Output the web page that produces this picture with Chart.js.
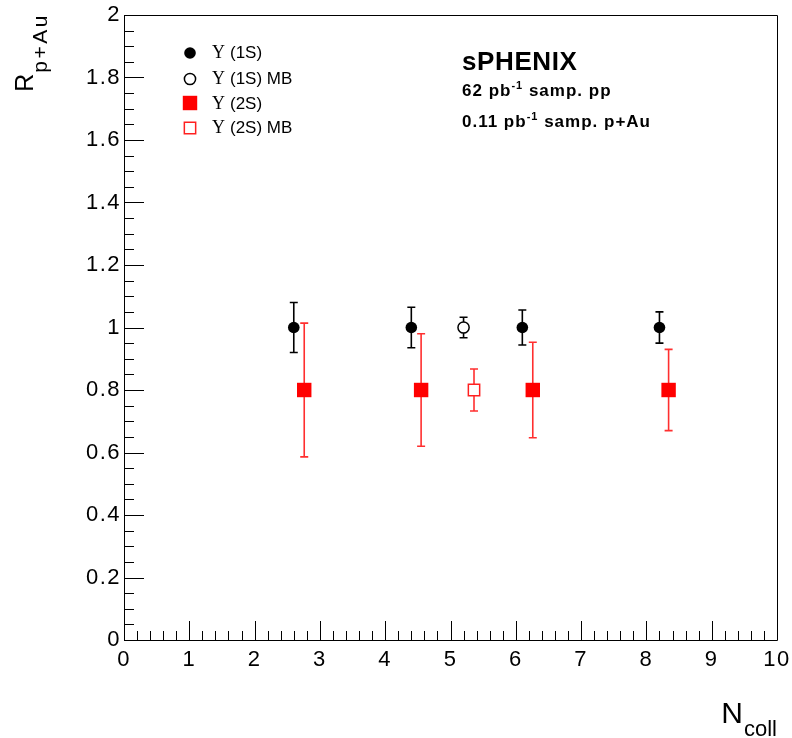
<!DOCTYPE html>
<html>
<head>
<meta charset="utf-8">
<script src="https://cdn.jsdelivr.net/npm/chart.js@4/dist/chart.umd.min.js"></script>
<style>
html,body{margin:0;padding:0;background:#fff;}
#wrap{width:792px;height:738px;position:relative;}
</style>
</head>
<body>
<div id="wrap"><canvas id="c" width="792" height="738"></canvas></div>
<script>
// ---- data ----
const xTickLabels = ['0','1','2','3','4','5','6','7','8','9','10'];
const yTickLabels = ['0','0.2','0.4','0.6','0.8','1','1.2','1.4','1.6','1.8','2'];

const ncoll1S   = [2.6, 4.4, 6.1, 8.2];
const raa1S     = [1.0, 1.0, 1.0, 1.0];
const err1S     = [0.080, 0.065, 0.056, 0.050];

const ncoll1SMB = [5.2];
const raa1SMB   = [1.0];
const err1SMB   = [0.033];

const ncoll2S   = [2.76, 4.55, 6.26, 8.34];
const raa2S     = [0.8, 0.8, 0.8, 0.8];
const err2S     = [0.214, 0.180, 0.153, 0.130];

const ncoll2SMB = [5.36];
const raa2SMB   = [0.8];
const err2SMB   = [0.067];

const seriesNames = ['(1S)', '(1S) MB', '(2S)', '(2S) MB'];
const headerLines = ['sPHENIX', '62 pb', '0.11 pb'];

const toPts = (xs, ys) => xs.map((x, i) => ({x: x, y: ys[i]}));

// ---- plugins ----
const spacing = {
  id: 'spacing',
  beforeDraw(chart) { chart.ctx.letterSpacing = '1.5px'; },
  beforeDatasetsDraw(chart) { chart.ctx.letterSpacing = '0px'; }
};

const errorBars = {
  id: 'errorBars',
  beforeDatasetsDraw(chart) {
    const ctx = chart.ctx, xs = chart.scales.x, ys = chart.scales.y;
    chart.data.datasets.forEach((ds) => {
      ctx.save();
      ctx.strokeStyle = ds.errColor;
      ctx.lineWidth = 1.6;
      ds.data.forEach((p, i) => {
        const e = ds.err[i];
        const px = xs.getPixelForValue(p.x);
        const y1 = ys.getPixelForValue(p.y + e);
        const y2 = ys.getPixelForValue(p.y - e);
        ctx.beginPath();
        ctx.moveTo(px, y1); ctx.lineTo(px, y2);
        ctx.moveTo(px - 4, y1); ctx.lineTo(px + 4, y1);
        ctx.moveTo(px - 4, y2); ctx.lineTo(px + 4, y2);
        ctx.stroke();
      });
      ctx.restore();
    });
  }
};

const frameTicks = {
  id: 'frameTicks',
  afterDraw(chart) {
    const ctx = chart.ctx, a = chart.chartArea, xs = chart.scales.x, ys = chart.scales.y;
    ctx.save();
    ctx.strokeStyle = '#000';
    ctx.lineWidth = 1;
    ctx.beginPath();
    ctx.rect(Math.round(a.left) + 0.5, Math.round(a.top) + 0.5,
             Math.round(a.right - a.left), Math.round(a.bottom - a.top));
    ctx.stroke();
    ctx.beginPath();
    // x ticks: major every 1, minor every 0.2
    for (let i = 0; i <= 50; i++) {
      const v = i * 0.2;
      const px = Math.round(xs.getPixelForValue(v)) + 0.5;
      const len = (i % 5 === 0) ? 19 : 9;
      ctx.moveTo(px, a.bottom); ctx.lineTo(px, a.bottom - len);
    }
    // y ticks: major every 0.2, minor every 0.05
    for (let i = 0; i <= 40; i++) {
      const v = i * 0.05;
      const py = Math.round(ys.getPixelForValue(v)) + 0.5;
      const len = (i % 4 === 0) ? 20 : 10;
      ctx.moveTo(a.left, py); ctx.lineTo(a.left + len, py);
    }
    ctx.stroke();
    ctx.restore();
  }
};

const annotations = {
  id: 'annotations',
  afterDraw(chart) {
    const ctx = chart.ctx;
    const H = Chart.helpers;
    ctx.save();
    ctx.letterSpacing = '0px';
    ctx.fillStyle = '#000';
    ctx.textBaseline = 'alphabetic';

    // legend
    const legX = 190, txtX = 212;
    const legY = [53, 79, 103, 128];
    const legBase = [58, 84, 109, 133];
    chart.data.datasets.forEach((ds, i) => {
      ctx.save();
      ctx.fillStyle = ds.pointBackgroundColor;
      ctx.strokeStyle = ds.pointBorderColor;
      ctx.lineWidth = ds.pointBorderWidth;
      H.drawPoint(ctx, {pointStyle: ds.pointStyle, radius: ds.pointRadius,
        borderWidth: ds.pointBorderWidth, rotation: 0}, legX, legY[i]);
      ctx.restore();
      ctx.fillStyle = '#000';
      ctx.textAlign = 'left';
      ctx.font = '18px "Liberation Serif"';
      ctx.fillText('\u03A5', txtX, legBase[i]);
      const w = ctx.measureText('\u03A5').width;
      ctx.font = '17px "Liberation Sans"';
      ctx.fillText(seriesNames[i], txtX + w + 5, legBase[i]);
    });

    // header text
    const hx = 462;
    ctx.letterSpacing = '0.6px';
    ctx.font = 'bold 26px "Liberation Sans"';
    ctx.fillText(headerLines[0], hx, 70);
    ctx.letterSpacing = '1px';
    const supLine = (pre, post, base) => {
      ctx.font = 'bold 17px "Liberation Sans"';
      ctx.fillText(pre, hx, base);
      let x = hx + ctx.measureText(pre).width;
      ctx.font = 'bold 11px "Liberation Sans"';
      ctx.fillText('-1', x, base - 7);
      x += ctx.measureText('-1').width;
      ctx.font = 'bold 17px "Liberation Sans"';
      ctx.fillText(post, x, base);
    };
    supLine(headerLines[1], ' samp. pp', 96);
    supLine(headerLines[2], ' samp. p+Au', 127);
    ctx.letterSpacing = '0px';

    // x axis title N_coll
    ctx.textAlign = 'right';
    ctx.font = '22px "Liberation Sans"';
    ctx.fillText('coll', 777, 736);
    const wc = ctx.measureText('coll').width;
    ctx.font = '30px "Liberation Sans"';
    ctx.fillText('N', 777 - wc - 1, 723);

    // y axis title R_p+Au
    ctx.save();
    ctx.translate(33, 15);
    ctx.rotate(-Math.PI / 2);
    ctx.textAlign = 'left';
    ctx.letterSpacing = '2.5px';
    ctx.font = '21px "Liberation Sans"';
    const ws = ctx.measureText('p+Au').width;
    ctx.fillText('p+Au', -ws + 2, 14);
    ctx.letterSpacing = '0px';
    ctx.textAlign = 'right';
    ctx.font = '25px "Liberation Sans"';
    ctx.fillText('R', -ws + 1, 0);
    ctx.restore();

    ctx.restore();
  }
};

// ---- chart ----
new Chart(document.getElementById('c'), {
  type: 'scatter',
  data: {
    datasets: [
      {label: 'Y(1S)', data: toPts(ncoll1S, raa1S), err: err1S, errColor: '#000',
       pointStyle: 'circle', pointRadius: 5.8, pointHoverRadius: 5.8,
       pointBackgroundColor: '#000', pointBorderColor: '#000', pointBorderWidth: 0},
      {label: 'Y(1S) MB', data: toPts(ncoll1SMB, raa1SMB), err: err1SMB, errColor: '#000',
       pointStyle: 'circle', pointRadius: 5.6, pointHoverRadius: 5.6,
       pointBackgroundColor: '#fff', pointBorderColor: '#000', pointBorderWidth: 1.5},
      {label: 'Y(2S)', data: toPts(ncoll2S, raa2S), err: err2S, errColor: '#ff2f2f',
       pointStyle: 'rect', pointRadius: 10.2, pointHoverRadius: 10.2,
       pointBackgroundColor: '#ff0000', pointBorderColor: '#ff0000', pointBorderWidth: 0},
      {label: 'Y(2S) MB', data: toPts(ncoll2SMB, raa2SMB), err: err2SMB, errColor: '#ff2f2f',
       pointStyle: 'rect', pointRadius: 8, pointHoverRadius: 8,
       pointBackgroundColor: '#fff', pointBorderColor: '#ff2020', pointBorderWidth: 1.5}
    ]
  },
  options: {
    responsive: false,
    animation: false,
    events: [],
    layout: {padding: {top: 15, right: 15, left: 0, bottom: 0}},
    plugins: {legend: {display: false}, tooltip: {enabled: false}},
    scales: {
      x: {
        type: 'linear', min: 0, max: 10,
        afterFit(s) { s.height = 98; s.paddingLeft = 0; s.paddingRight = 0; },
        grid: {display: false, drawTicks: false},
        border: {display: false},
        ticks: {stepSize: 1, autoSkip: false, maxRotation: 0, padding: 7, color: '#000',
          font: {family: 'Liberation Sans', size: 22},
          callback: (v, i) => xTickLabels[i]}
      },
      y: {
        type: 'linear', min: 0, max: 2,
        afterFit(s) { s.width = 124; s.paddingTop = 0; s.paddingBottom = 0; },
        grid: {display: false, drawTicks: false},
        border: {display: false},
        ticks: {stepSize: 0.2, autoSkip: false, padding: 3, color: '#000',
          font: {family: 'Liberation Sans', size: 22},
          callback: (v, i) => yTickLabels[i]}
      }
    }
  },
  plugins: [spacing, errorBars, frameTicks, annotations]
});
</script>
</body>
</html>
